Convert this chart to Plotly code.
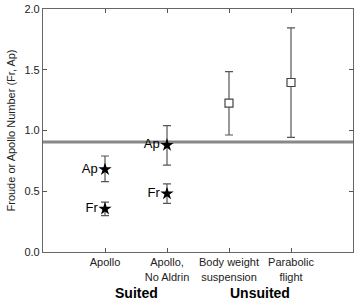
import plotly.graph_objects as go

categories = ["Apollo", "Apollo,<br>No Aldrin", "Body weight<br>suspension", "Parabolic<br>flight"]
cat_x = [1, 2, 3, 4]

# Suited: Ap and Fr values (stars)
ap_vals = [0.68, 0.88]
ap_hi = [0.79, 1.04]
ap_lo = [0.58, 0.715]
fr_vals = [0.355, 0.48]
fr_hi = [0.41, 0.56]
fr_lo = [0.30, 0.40]

# Unsuited (open squares)
un_vals = [1.225, 1.395]
un_hi = [1.485, 1.845]
un_lo = [0.963, 0.943]

threshold = 0.905

def err(v, hi, lo):
    return dict(type="data", symmetric=False,
                array=[h - x for h, x in zip(hi, v)],
                arrayminus=[x - l for l, x in zip(lo, v)],
                color="#555", thickness=1.2, width=4)

fig = go.Figure()
fig.add_shape(type="line", x0=0, x1=5, y0=threshold, y1=threshold,
              line=dict(color="#888", width=3), layer="below")

fig.add_trace(go.Scatter(x=cat_x[:2], y=ap_vals, mode="markers+text",
                         text=["Ap", "Ap"], textposition="middle left",
                         textfont=dict(size=13, color="black"),
                         marker=dict(symbol="star", size=10, color="black"),
                         error_y=err(ap_vals, ap_hi, ap_lo), cliponaxis=False))
fig.add_trace(go.Scatter(x=cat_x[:2], y=fr_vals, mode="markers+text",
                         text=["Fr", "Fr"], textposition="middle left",
                         textfont=dict(size=13, color="black"),
                         marker=dict(symbol="star", size=10, color="black"),
                         error_y=err(fr_vals, fr_hi, fr_lo), cliponaxis=False))
fig.add_trace(go.Scatter(x=cat_x[2:], y=un_vals, mode="markers",
                         marker=dict(symbol="square", size=8, color="white",
                                     line=dict(color="#444", width=1.2)),
                         error_y=err(un_vals, un_hi, un_lo)))

fig.add_annotation(x=1.5, y=-0.169, xref="x", yref="paper", yanchor="middle",
                   text="<b>Suited</b>", showarrow=False,
                   font=dict(size=14, color="black"))
fig.add_annotation(x=3.5, y=-0.169, xref="x", yref="paper", yanchor="middle",
                   text="<b>Unsuited</b>", showarrow=False,
                   font=dict(size=14, color="black"))

fig.update_layout(
    width=355, height=300, margin=dict(l=43, r=2, t=9, b=48),
    plot_bgcolor="white", paper_bgcolor="white", showlegend=False,
    font=dict(family="Liberation Sans, Arial, sans-serif", color="#222"),
)
fig.update_xaxes(range=[0, 5], tickvals=cat_x, ticktext=categories, automargin=False,
                 ticks="inside", ticklen=4, tickcolor="#555", mirror="ticks",
                 showline=True, linecolor="#666", linewidth=1.2, showgrid=False,
                 zeroline=False, tickfont=dict(size=11, color="#222"))
fig.update_yaxes(range=[0, 2], tickvals=[0, 0.5, 1.0, 1.5, 2.0], tickformat=".1f",
                 automargin=False, ticks="inside", ticklen=4, tickcolor="#555",
                 mirror="ticks", showline=True, linecolor="#666", linewidth=1.2,
                 showgrid=False, zeroline=False, tickfont=dict(size=11, color="#222"),
                 title=dict(text="Froude or Apollo Number (Fr, Ap)",
                            font=dict(size=11, color="#222"), standoff=6))

fig.write_html("out.html")
